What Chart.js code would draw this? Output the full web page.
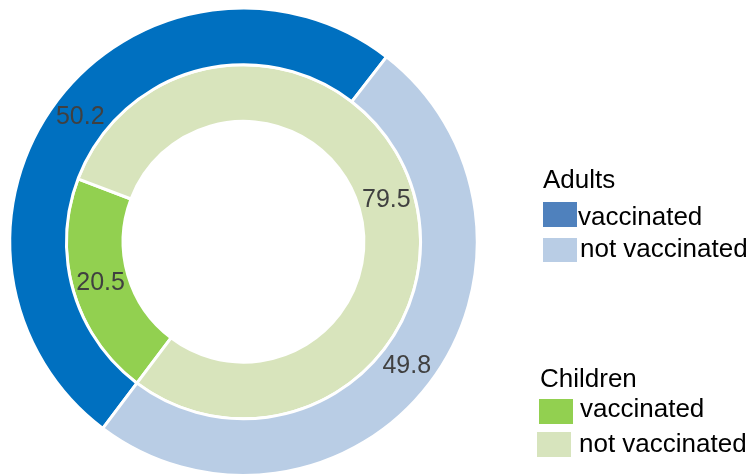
<!DOCTYPE html>
<html>
<head>
<meta charset="utf-8">
<script src="https://cdn.jsdelivr.net/npm/chart.js@4.4.0/dist/chart.umd.min.js"></script>
<style>
  html, body { margin: 0; padding: 0; background: #ffffff; overflow: hidden; }
  #wrap { position: relative; width: 749px; height: 476px; overflow: hidden; }
  #c { position: absolute; left: 0; top: 0; }
  .lg { position: absolute; font-family: "Liberation Sans", Arial, sans-serif; font-size: 26px; line-height: 26px; color: #000; white-space: nowrap; }
  .bx { position: absolute; }
</style>
</head>
<body>
<div id="wrap">
  <canvas id="c" width="749" height="480"></canvas>
  <div id="legend"></div>
</div>
<script>
const categories = ["vaccinated", "not vaccinated"];
const groupNames = ["Adults", "Children"];
const adultsValues = [50.2, 49.8];
const childrenValues = [20.5, 79.5];
const adultsColors = ["#0070C0", "#B9CDE5"];
const childrenColors = ["#92D050", "#D8E4BC"];
const adultsLegendColors = ["#4F81BD", "#B9CDE5"];
const childrenLegendColors = ["#92D050", "#D7E4BD"];

const labelPlugin = {
  id: 'ringLabels',
  afterDatasetsDraw(chart) {
    const ctx = chart.ctx;
    ctx.save();
    ctx.font = '25px "Liberation Sans", Arial, sans-serif';
    ctx.fillStyle = '#404040';
    ctx.textAlign = 'center';
    ctx.textBaseline = 'middle';
    chart.data.datasets.forEach((ds, di) => {
      const meta = chart.getDatasetMeta(di);
      meta.data.forEach((arc, i) => {
        const p = arc.tooltipPosition();
        ctx.fillText(String(ds.data[i]), p.x, p.y);
      });
    });
    ctx.restore();
  }
};

new Chart(document.getElementById('c'), {
  type: 'doughnut',
  data: {
    labels: categories,
    datasets: [
      { label: groupNames[0], data: adultsValues, backgroundColor: adultsColors, borderColor: '#ffffff', borderWidth: 3 },
      { label: groupNames[1], data: childrenValues, backgroundColor: childrenColors, borderColor: '#ffffff', borderWidth: 3 }
    ]
  },
  options: {
    responsive: false,
    animation: false,
    rotation: 217,
    cutout: '51.5%',
    layout: { padding: { left: 8, top: 6.5, right: 270, bottom: 3 } },
    plugins: {
      legend: { display: false },
      tooltip: { enabled: false }
    }
  },
  plugins: [labelPlugin]
});

// HTML legend (real text)
const legend = document.getElementById('legend');
function addText(txt, x, baseline) {
  const d = document.createElement('div');
  d.className = 'lg';
  d.textContent = txt;
  d.style.left = x + 'px';
  d.style.top = (baseline - 22) + 'px';
  legend.appendChild(d);
}
function addBox(color, x, y, w, h) {
  const d = document.createElement('div');
  d.className = 'bx';
  d.style.left = x + 'px'; d.style.top = y + 'px';
  d.style.width = w + 'px'; d.style.height = h + 'px';
  d.style.background = color;
  legend.appendChild(d);
}
addText(groupNames[0], 543, 188);
addBox(adultsLegendColors[0], 543, 202, 34, 25);
addText(categories[0], 578, 225);
addBox(adultsLegendColors[1], 543, 238, 34, 24);
addText(categories[1], 580, 257);

addText(groupNames[1], 540, 387);
addBox(childrenLegendColors[0], 539, 399, 34, 25);
addText(categories[0], 580, 417);
addBox(childrenLegendColors[1], 537, 432, 34, 25);
addText(categories[1], 579, 452);
</script>
</body>
</html>
